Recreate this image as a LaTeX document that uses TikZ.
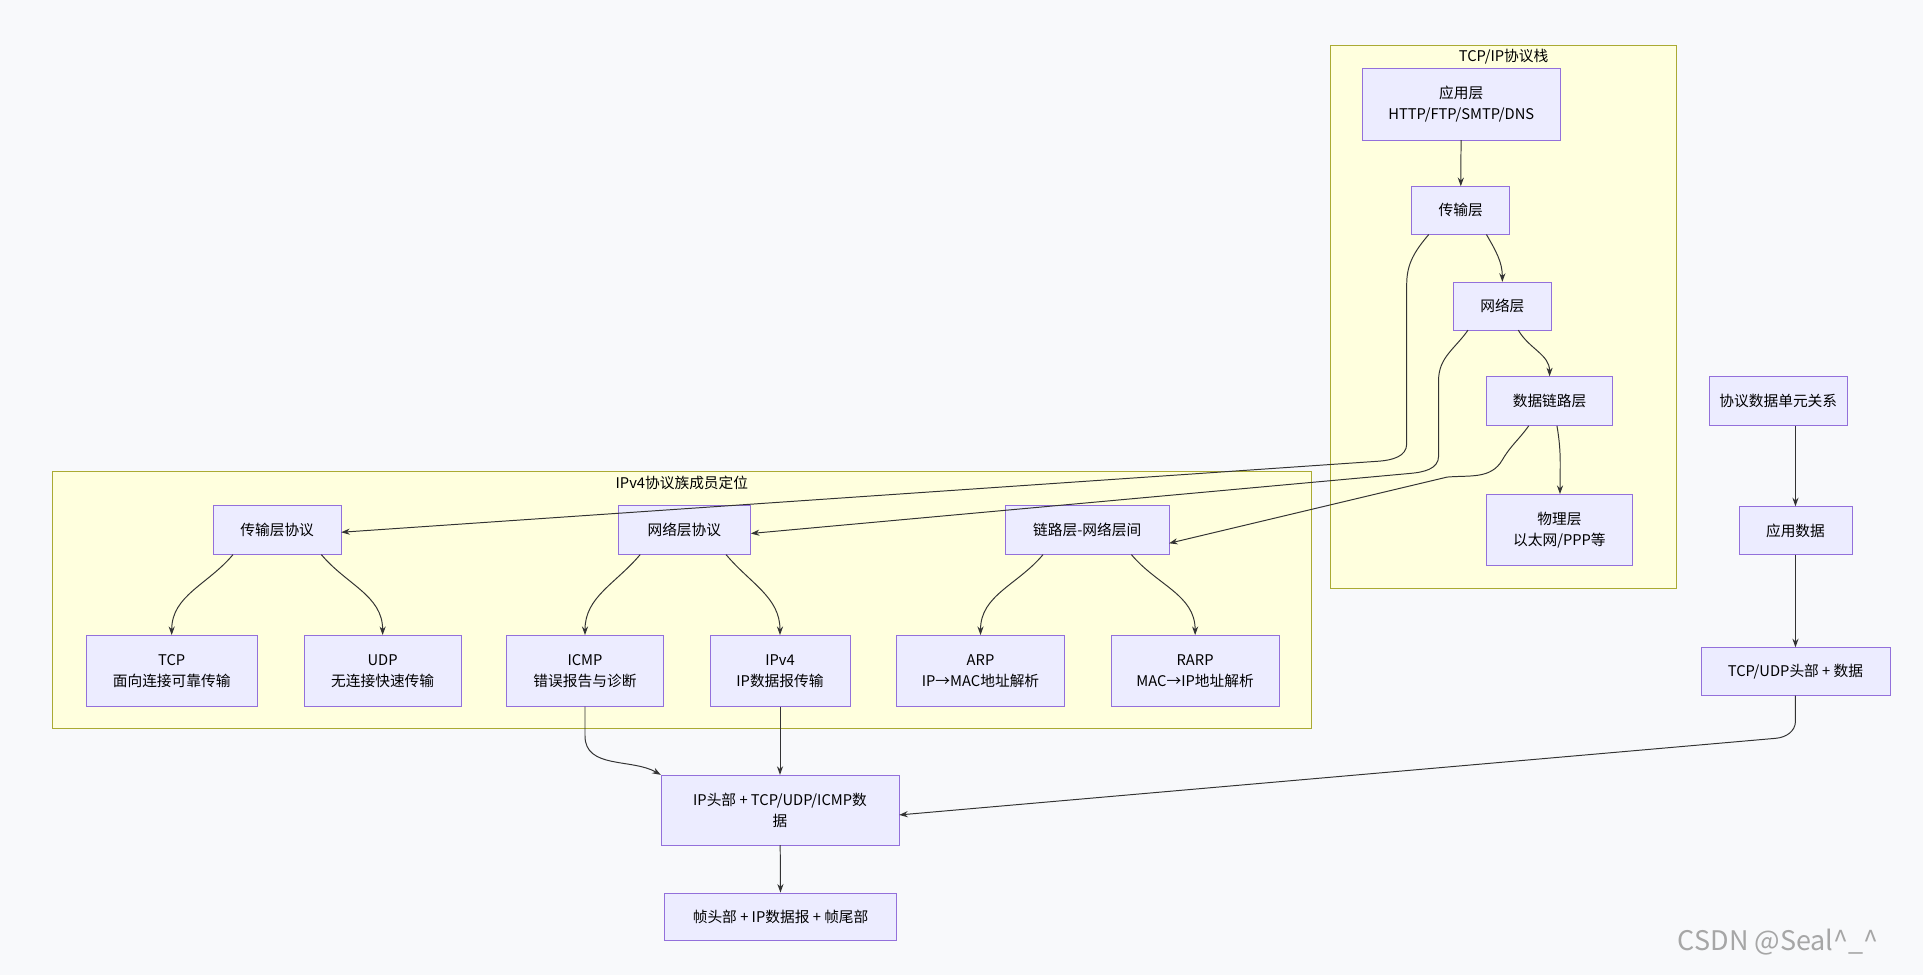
\documentclass[tikz,border=0pt]{standalone}
\usepackage{fontspec}
\setmainfont{Noto Sans CJK SC}
\usepackage{tikz}
\usetikzlibrary{arrows.meta,calc}
\definecolor{bgcolor}{HTML}{F8F9FB}
\definecolor{nodefill}{HTML}{ECECFF}
\definecolor{nodeline}{HTML}{9370DB}
\definecolor{clusterfill}{HTML}{FFFFDE}
\definecolor{clusterline}{HTML}{AAAA33}
\definecolor{edgecolor}{HTML}{333333}

\begin{document}
\begin{tikzpicture}[
  x=1pt, y=-1pt,
  font=\fontsize{12}{17}\selectfont,
  box/.style={rectangle, draw=nodeline, fill=nodefill, align=center, inner sep=2pt},
  cluster/.style={draw=clusterline, fill=clusterfill},
  arrow/.style={-{Stealth[length=7pt,width=5pt]}, draw=edgecolor, line width=0.8pt}
]
  % Background
  \fill[bgcolor] (0,0) rectangle (1568,795);
  \useasboundingbox (0,0) rectangle (1568,795);

  % Clusters
  \draw[cluster] (1085,37) rectangle (1367,480);
  \node (stacktitle) at (1226,46) {TCP/IP协议栈};
  \draw[cluster] (43,384) rectangle (1069,594);
  \node (ipv4title) at (556,394) {IPv4协议族成员定位};

  % TCP/IP stack
  \node[box, minimum width=161pt, minimum height=58pt] (app) at (1191.5,85) {应用层\\HTTP/FTP/SMTP/DNS};
  \node[box, minimum width=80pt, minimum height=39pt] (tl) at (1191,171.5) {传输层};
  \node[box, minimum width=80pt, minimum height=39pt] (nl) at (1225,249.5) {网络层};
  \node[box, minimum width=103pt, minimum height=40pt] (dl) at (1263.5,327) {数据链路层};
  \node[box, minimum width=119pt, minimum height=58pt] (pl) at (1271.5,432) {物理层\\以太网/PPP等};

  % PDU chain
  \node[box, minimum width=112pt, minimum height=40pt] (pdu) at (1450,327) {协议数据单元关系};
  \node[box, minimum width=92pt, minimum height=39pt] (ad) at (1464,432.5) {应用数据};
  \node[box, minimum width=154pt, minimum height=39pt] (tu) at (1464,547.5) {TCP/UDP头部 + 数据};

  % IPv4 family
  \node[box, minimum width=104pt, minimum height=40pt] (ttp) at (226,432) {传输层协议};
  \node[box, minimum width=108pt, minimum height=40pt] (ntp) at (558,432) {网络层协议};
  \node[box, minimum width=133pt, minimum height=40pt] (lnp) at (886.5,432) {链路层-网络层间};
  \node[box, minimum width=140pt, minimum height=58pt] (tcp) at (140,547) {TCP\\面向连接可靠传输};
  \node[box, minimum width=128pt, minimum height=58pt] (udp) at (312,547) {UDP\\无连接快速传输};
  \node[box, minimum width=128pt, minimum height=58pt] (icmp) at (477,547) {ICMP\\错误报告与诊断};
  \node[box, minimum width=114pt, minimum height=58pt] (ipv4) at (636,547) {IPv4\\IP数据报传输};
  \node[box, minimum width=137pt, minimum height=58pt] (arp) at (799.5,547) {ARP\\IP→MAC地址解析};
  \node[box, minimum width=137pt, minimum height=58pt] (rarp) at (974.5,547) {RARP\\MAC→IP地址解析};

  % Encapsulation
  \node[box, minimum width=194pt, minimum height=57pt] (ip) at (636,660.5) {IP头部 + TCP/UDP/ICMP数\\据};
  \node[box, minimum width=189pt, minimum height=39pt] (fr) at (636.5,747.5) {帧头部 + IP数据报 + 帧尾部};

  % Watermark
  \node[text=black!35, font=\fontsize{22}{24}\selectfont] (mark) at (1450,768) {CSDN @Seal\^{}\_\^{}};

  % Stack arrows
  \draw[arrow] (app) -- (tl);
  \draw[arrow] ([xshift=21pt]tl.south) to[out=-60,in=90] (nl.north);
  \draw[arrow] ([xshift=13pt]nl.south) to[out=-60,in=90] (dl.north);
  \draw[arrow] ([xshift=6pt]dl.south) to[out=-80,in=90] ([xshift=0.5pt]pl.north);

  % Stack to family
  \draw[arrow] ([xshift=-26pt]tl.south) to[out=-130,in=90] (1147,232) -- (1147,362)
    to[out=-90,in=5] (1125,376) -- ([yshift=-2pt]ttp.east);
  \draw[arrow] ([xshift=-28pt]nl.south) to[out=-125,in=90] (1173,310) -- (1173,372)
    to[out=-90,in=5] (1150,386) -- ([yshift=-3pt]ntp.east);
  \draw[arrow] ([xshift=-17pt]dl.south) to[out=-125,in=60] (1225,375)
    to[out=-120,in=5] (1180,389) -- ([yshift=-11pt]lnp.east);

  % Family arrows
  \draw[arrow] ([xshift=-36pt]ttp.south) to[out=-130,in=90] (tcp.north);
  \draw[arrow] ([xshift=36pt]ttp.south) to[out=-50,in=90] (udp.north);
  \draw[arrow] ([xshift=-36pt]ntp.south) to[out=-130,in=90] (icmp.north);
  \draw[arrow] ([xshift=34pt]ntp.south) to[out=-50,in=90] (ipv4.north);
  \draw[arrow] ([xshift=-36pt]lnp.south) to[out=-130,in=90] (arp.north);
  \draw[arrow] ([xshift=36pt]lnp.south) to[out=-50,in=90] (rarp.north);

  % PDU arrows
  \draw[arrow] (pdu.south -| ad.north) -- (ad);
  \draw[arrow] (ad) -- (tu);
  \draw[arrow] (tu.south) -- (1464,588) to[out=-90,in=5] (1448,602) -- ([yshift=-4pt]ip.east);
  \draw[arrow] (icmp.south) -- (477,600) to[out=-90,in=150] (ip.north west);
  \draw[arrow] (ipv4) -- (ip);
  \draw[arrow] (ip) -- (fr);
\end{tikzpicture}
\end{document}
